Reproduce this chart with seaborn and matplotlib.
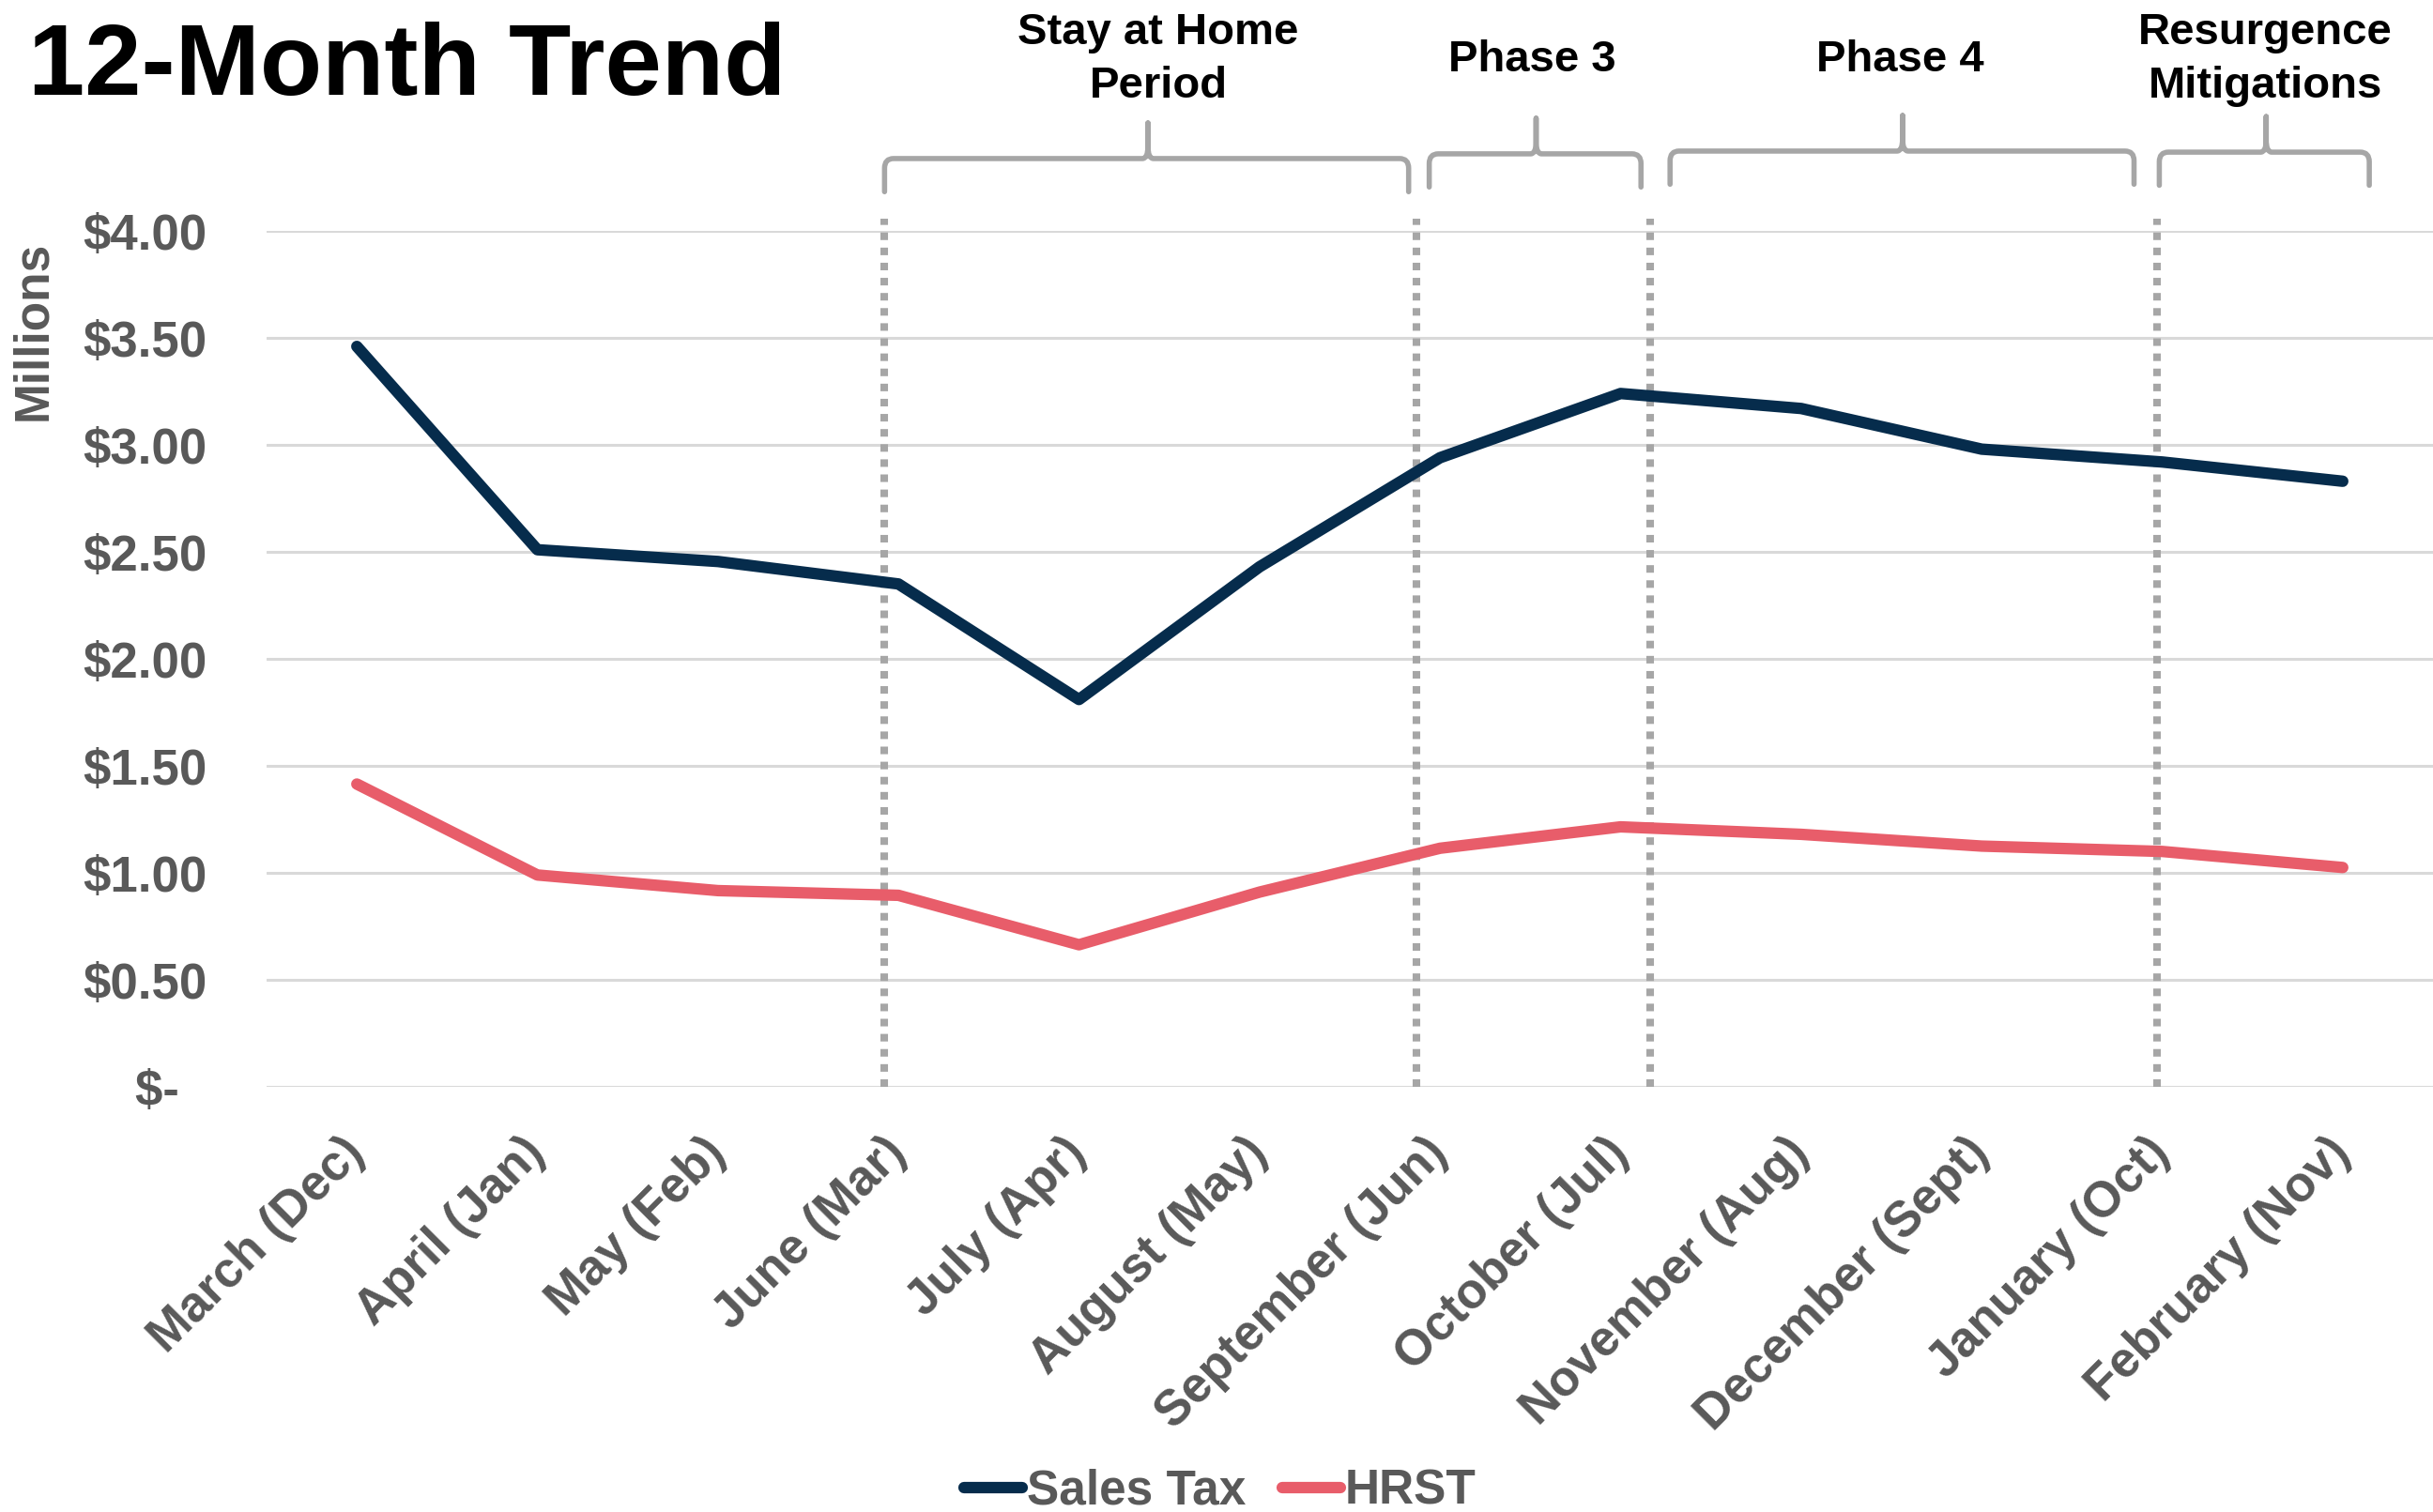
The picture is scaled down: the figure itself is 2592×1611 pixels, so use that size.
import numpy as np
import pandas as pd
import matplotlib
matplotlib.use("Agg")
import matplotlib.pyplot as plt
from matplotlib.path import Path
from matplotlib.patches import PathPatch
import seaborn as sns

# ---------------- data ----------------
months = ["March (Dec)", "April (Jan)", "May (Feb)", "June (Mar)", "July (Apr)",
          "August (May)", "September (Jun)", "October (Jul)", "November (Aug)",
          "December (Sept)", "January (Oct)", "February (Nov)"]
sales_tax = [3.46, 2.51, 2.455, 2.35, 1.81, 2.43, 2.94, 3.24, 3.17, 2.98, 2.92, 2.83]
hrst = [1.415, 0.99, 0.917, 0.895, 0.664, 0.91, 1.115, 1.215, 1.18, 1.125, 1.10, 1.025]
series_names = ["Sales Tax", "HRST"]
y_ticks = [0.0, 0.5, 1.0, 1.5, 2.0, 2.5, 3.0, 3.5, 4.0]
y_tick_labels = ["$-  ", "$0.50", "$1.00", "$1.50", "$2.00", "$2.50", "$3.00", "$3.50", "$4.00"]

# period annotations (positions in category units)
period_lines = [2.923, 5.867, 7.165, 9.969]
period_labels = ["Stay at Home\nPeriod", "Phase 3", "Phase 4", "Resurgence\nMitigations"]
period_label_x = [4.44, 6.51, 8.55, 10.57]
brace_left = [2.923, 5.940, 7.274, 9.984]
brace_right = [5.826, 7.113, 9.844, 11.147]
brace_tip = [4.382, 6.532, 8.562, 10.576]
brace_bar = [4.338, 4.360, 4.373, 4.368]

# ---------------- style ----------------
sns.set_style("white")
plt.rcParams["font.family"] = ["Liberation Sans", "DejaVu Sans"]
plt.rcParams["font.weight"] = "bold"

NAVY = "#062C4C"
CORAL = "#E85D6A"
GRAYTXT = "#595959"
DOTGRAY = "#A6A6A6"
GRID = "#D9D9D9"

df = pd.DataFrame({
    "Month": months * 2,
    "Value": sales_tax + hrst,
    "Series": [series_names[0]] * len(months) + [series_names[1]] * len(months),
})

fig = plt.figure(figsize=(25.92, 16.11), dpi=100)
ax = fig.add_axes([284 / 2592, 1 - 1158 / 1611, 1 - 284 / 2592, (1158 - 246) / 1611])

sns.lineplot(data=df, x="Month", y="Value", hue="Series", sort=False,
             palette={series_names[0]: NAVY, series_names[1]: CORAL},
             linewidth=8.8, ax=ax, legend=True)
for ln in ax.get_lines():
    ln.set_solid_capstyle("round")
    ln.set_solid_joinstyle("round")

ax.set_xlim(-0.5, len(months) - 0.5)
ax.set_ylim(0, 4.0)
ax.set_yticks(y_ticks)
ax.set_yticklabels(y_tick_labels)
ax.yaxis.grid(True, color=GRID, linewidth=2.2)
ax.xaxis.grid(False)
ax.set_axisbelow(True)
for s in ax.spines.values():
    s.set_visible(False)

ax.tick_params(axis="y", length=0, pad=46, labelsize=38, labelcolor=GRAYTXT)
ax.tick_params(axis="x", length=0, pad=45, labelsize=38, labelcolor=GRAYTXT)
for lab in ax.get_xticklabels():
    lab.set_rotation(45)
    lab.set_ha("right")
    lab.set_va("center")
    lab.set_rotation_mode("anchor")
    lab.set_fontweight("bold")
for lab in ax.get_yticklabels():
    lab.set_fontweight("bold")

ax.set_xlabel("")
ax.set_ylabel("Millions", fontsize=37, color=GRAYTXT, fontweight="bold")
ax.yaxis.set_label_coords((36 - 284) / 2308, (1158 - 352) / 912)
ax.yaxis.label.set_verticalalignment("center")

# dotted period separators
ax.vlines(period_lines, 0, 4.057, colors=DOTGRAY, linewidth=5.8,
          linestyles=(0, (1, 1)), clip_on=False, zorder=1)

# braces
rx, ry = 0.05, 0.045
for x0, x1, xt, yb in zip(brace_left, brace_right, brace_tip, brace_bar):
    yend = yb - 0.155
    ytop = yb + 0.166
    verts = [
        (x0, yend), (x0, yb - ry), (x0, yb), (x0 + rx, yb),
        (xt - rx * 0.6, yb), (xt, yb), (xt, yb + ry * 1.3), (xt, ytop),
        (x1, yend), (x1, yb - ry), (x1, yb), (x1 - rx, yb),
        (xt + rx * 0.6, yb), (xt, yb), (xt, yb + ry * 1.3), (xt, ytop),
    ]
    codes = [
        Path.MOVETO, Path.LINETO, Path.CURVE3, Path.CURVE3,
        Path.LINETO, Path.CURVE3, Path.CURVE3, Path.LINETO,
        Path.MOVETO, Path.LINETO, Path.CURVE3, Path.CURVE3,
        Path.LINETO, Path.CURVE3, Path.CURVE3, Path.LINETO,
    ]
    ax.add_patch(PathPatch(Path(verts, codes), facecolor="none", edgecolor=DOTGRAY,
                           linewidth=4, clip_on=False, capstyle="round", joinstyle="round"))

for lx, lt in zip(period_label_x, period_labels):
    ax.text(lx, 4.80, lt, ha="center", va="center", fontsize=34, fontweight="bold",
            color="black", linespacing=1.38, clip_on=False)

# title
fig.text(30 / 2592, 1 - 73 / 1611, "12-Month Trend", fontsize=78, fontweight="bold",
         color="black", ha="left", va="center")

# legend
handles, labels = ax.get_legend_handles_labels()
if ax.get_legend() is not None:
    ax.get_legend().remove()
leg = fig.legend(handles, labels, loc="center", bbox_to_anchor=(0.5015, 22 / 1611),
                 ncol=2, frameon=False, fontsize=37, handlelength=1.2,
                 handletextpad=0.1, columnspacing=0.75, borderaxespad=0, borderpad=0)
for t in leg.get_texts():
    t.set_color(GRAYTXT)
    t.set_fontweight("bold")
for h in leg.get_lines():
    h.set_linewidth(8.8)
    h.set_solid_capstyle("round")

fig.savefig("out.png", dpi=100)
